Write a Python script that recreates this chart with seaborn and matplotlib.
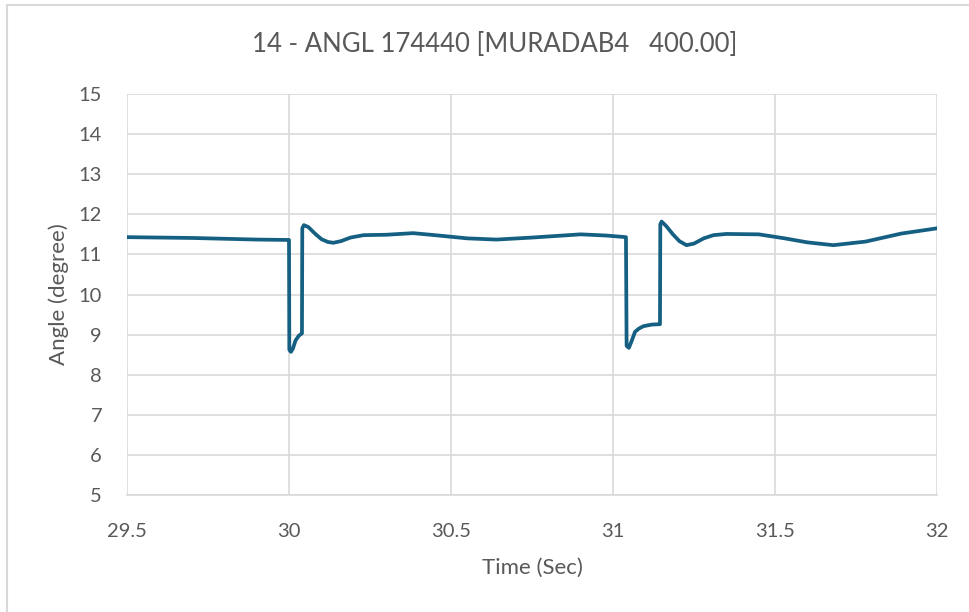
import matplotlib
matplotlib.use("Agg")
import matplotlib.pyplot as plt
import seaborn as sns
import pandas as pd
from matplotlib.lines import Line2D

time_sec = [29.50, 29.70, 29.90, 30.000, 30.001, 30.006, 30.012, 30.020, 30.030, 30.040,
            30.041, 30.046, 30.060, 30.080, 30.100, 30.120, 30.137, 30.160, 30.190, 30.230,
            30.300, 30.383, 30.450, 30.550, 30.640, 30.750, 30.900, 30.980, 31.040,
            31.042, 31.049, 31.058, 31.068, 31.080, 31.094, 31.120, 31.145,
            31.146, 31.150, 31.165, 31.185, 31.205, 31.227, 31.250, 31.280, 31.310,
            31.350, 31.450, 31.530, 31.600, 31.680, 31.780, 31.890, 32.000]
angle_deg = [11.43, 11.41, 11.37, 11.36, 8.62, 8.57, 8.65, 8.85, 8.97, 9.03,
             11.65, 11.73, 11.68, 11.52, 11.38, 11.31, 11.29, 11.33, 11.42, 11.48,
             11.49, 11.53, 11.48, 11.40, 11.37, 11.42, 11.50, 11.47, 11.43,
             8.72, 8.67, 8.85, 9.07, 9.15, 9.21, 9.25, 9.26,
             11.75, 11.82, 11.70, 11.50, 11.33, 11.23, 11.27, 11.40, 11.48,
             11.51, 11.50, 11.40, 11.30, 11.23, 11.32, 11.52, 11.65]

x_ticks = [29.5, 30, 30.5, 31, 31.5, 32]
x_tick_labels = ["29.5", "30", "30.5", "31", "31.5", "32"]
y_ticks = [5, 6, 7, 8, 9, 10, 11, 12, 13, 14, 15]

title = "14 - ANGL 174440 [MURADAB4   400.00]"
x_label = "Time (Sec)"
y_label = "Angle (degree)"

sns.set_theme(style="white")
plt.rcParams["font.family"] = ["Lato", "DejaVu Sans"]

df = pd.DataFrame({"t": time_sec, "v": angle_deg})

fig = plt.figure(figsize=(9.69, 6.12), dpi=100)
ax = fig.add_axes([127/969, 1-495/612, 810/969, 401/612])

sns.lineplot(data=df, x="t", y="v", ax=ax, sort=False, estimator=None,
             color="#156082", linewidth=2.7, solid_joinstyle="round")

ax.set_xlim(29.5, 32)
ax.set_ylim(5, 15)
ax.set_xticks(x_ticks)
ax.set_xticklabels(x_tick_labels)
ax.set_yticks(y_ticks)
ax.grid(True, color="#D9D9D9", linewidth=1.2)
ax.set_axisbelow(True)
for s in ["top", "right", "left"]:
    ax.spines[s].set_visible(False)
ax.spines["bottom"].set_color("#D9D9D9")
ax.spines["bottom"].set_linewidth(1.2)
ax.tick_params(axis="both", length=0, labelsize=14.5, colors="#595959")
ax.tick_params(axis="x", pad=20)
ax.tick_params(axis="y", pad=18)
ax.set_xlabel(x_label, fontsize=16, color="#595959", labelpad=13)
ax.set_ylabel(y_label, fontsize=16, color="#595959", labelpad=7)
fig.text(495/969, 1-45/612, title, ha="center", va="center", fontsize=18.5, color="#595959")

# chart frame
fig.add_artist(Line2D([7/969, 1], [1-5/612, 1-5/612], transform=fig.transFigure, color="#D9D9D9", linewidth=1.5))
fig.add_artist(Line2D([7/969, 7/969], [0, 1-5/612], transform=fig.transFigure, color="#D9D9D9", linewidth=1.5))

fig.savefig("out.png", dpi=100)
